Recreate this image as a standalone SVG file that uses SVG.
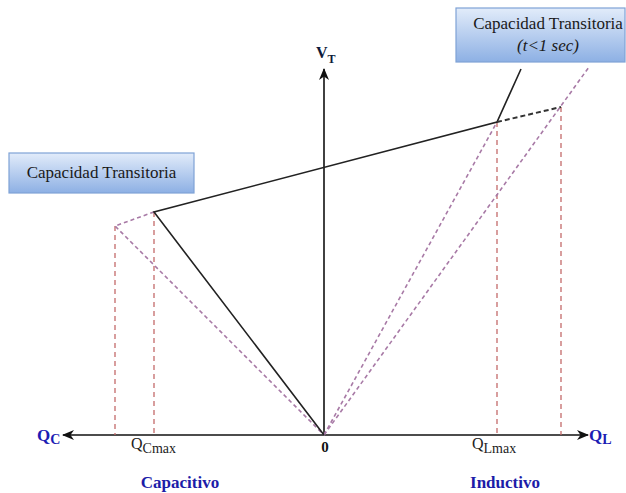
<svg xmlns="http://www.w3.org/2000/svg" width="626" height="493" viewBox="0 0 626 493">
  <style>
    .box { stroke: #7fa2d6; stroke-width: 1.2; fill: url(#boxFill); }
    .boxText { font-family: "Liberation Serif", "Times New Roman", serif; font-size: 17px; fill: #1a1a1a; }
    .axis { stroke: #111; stroke-width: 1.6; fill: none; }
    .curve { stroke: #222; stroke-width: 1.6; fill: none; }
    .curveDash { stroke: #333; stroke-width: 2; fill: none; stroke-dasharray: 5 3; }
    .proj { stroke: #c46a6a; stroke-width: 1.3; fill: none; stroke-dasharray: 5 4; }
    .slope { stroke: #a87aa6; stroke-width: 1.6; fill: none; stroke-dasharray: 4 3; }
    .axisLabel { font-family: "Liberation Serif", "Times New Roman", serif; font-weight: bold; fill: #1c1cb4; }
    .tick { font-family: "Liberation Serif", "Times New Roman", serif; fill: #222; }
    .region { font-family: "Liberation Serif", "Times New Roman", serif; font-weight: bold; font-size: 17px; fill: #1c1ca8; }
  </style>
  <defs>
    <linearGradient id="boxFill" x1="0" y1="0" x2="0" y2="1">
      <stop offset="0" stop-color="#e2ecfa"/>
      <stop offset="1" stop-color="#8db0e4"/>
    </linearGradient>
    <marker id="arrow" viewBox="0 0 12 10" refX="11" refY="5" markerWidth="12" markerHeight="10" markerUnits="userSpaceOnUse" orient="auto">
      <path d="M0,0 L12,5 L0,10 L3.5,5 Z" fill="#111"/>
    </marker>
  </defs>

  <!-- axes -->
  <g id="axes">
    <line class="axis" x1="324" y1="435" x2="63" y2="435" marker-end="url(#arrow)"/>
    <line class="axis" x1="324" y1="435" x2="588" y2="435" marker-end="url(#arrow)"/>
    <line class="axis" x1="324" y1="435" x2="324" y2="69" marker-end="url(#arrow)"/>
  </g>

  <!-- connectors: characteristic, projections and slopes -->
  <g id="connectors">
    <!-- vertical projections -->
    <line class="proj" x1="115" y1="226" x2="115" y2="435"/>
    <line class="proj" x1="154" y1="212" x2="154" y2="435"/>
    <line class="proj" x1="497" y1="122" x2="497" y2="435"/>
    <line class="proj" x1="561" y1="107" x2="561" y2="435"/>
    <!-- slope lines through the origin -->
    <polyline class="slope" points="154,212 115,226 324,435"/>
    <line class="slope" x1="324" y1="435" x2="497" y2="122"/>
    <line class="slope" x1="324" y1="435" x2="589" y2="67"/>
    <!-- characteristic -->
    <polyline class="curve" points="324,435 154,212 497,122 521,69"/>
    <line class="curveDash" x1="497" y1="122" x2="561" y2="107"/>
  </g>

  <!-- label boxes -->
  <g id="box-transient-left">
    <rect class="box" x="9" y="153" width="185" height="40"/>
    <text class="boxText" x="101.5" y="178" text-anchor="middle">Capacidad Transitoria</text>
  </g>
  <g id="box-transient-right">
    <rect class="box" x="456" y="8" width="169" height="54"/>
    <text class="boxText" x="548" y="29" text-anchor="middle">Capacidad Transitoria</text>
    <text class="boxText" x="548" y="51" text-anchor="middle" font-style="italic">(t&lt;1 sec)</text>
  </g>

  <!-- axis labels -->
  <g id="label-vt">
    <text class="axisLabel" x="316" y="58" font-size="16" style="fill:#0d1a3a">V<tspan font-size="12" dy="5">T</tspan></text>
  </g>
  <g id="label-qc">
    <text class="axisLabel" x="37" y="441" font-size="17">Q<tspan font-size="14" dy="3">C</tspan></text>
  </g>
  <g id="label-ql">
    <text class="axisLabel" x="589" y="441" font-size="17">Q<tspan font-size="14" dy="3">L</tspan></text>
  </g>
  <g id="label-qcmax">
    <text class="tick" x="131" y="449" font-size="16">Q<tspan font-size="14" dy="4">Cmax</tspan></text>
  </g>
  <g id="label-qlmax">
    <text class="tick" x="472" y="449" font-size="16">Q<tspan font-size="14" dy="4">Lmax</tspan></text>
  </g>
  <g id="label-origin">
    <text class="tick" x="325" y="452" font-size="15" font-weight="bold" text-anchor="middle" style="fill:#111">0</text>
  </g>
  <g id="label-regions">
    <text class="region" x="180" y="488" text-anchor="middle">Capacitivo</text>
    <text class="region" x="505" y="488" text-anchor="middle">Inductivo</text>
  </g>
</svg>
